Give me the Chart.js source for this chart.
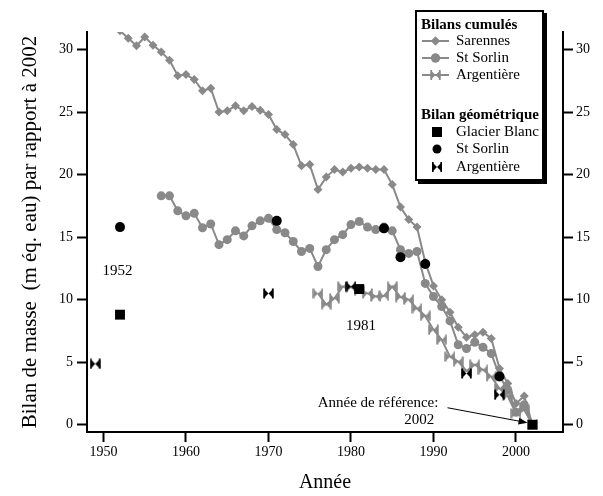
<!DOCTYPE html>
<html>
<head>
<meta charset="utf-8">
<script src="https://cdn.jsdelivr.net/npm/chart.js@4.4.1/dist/chart.umd.min.js"></script>
<style>
  html, body { margin: 0; padding: 0; background: #fff; }
  #wrap { width: 603px; height: 496px; position: relative; }
</style>
</head>
<body>
<div id="wrap"><canvas id="chart"></canvas></div>
<script>
// ---------------------------------------------------------------------------
// Data
// ---------------------------------------------------------------------------
const X_TICKS = [1950, 1960, 1970, 1980, 1990, 2000];
const Y_TICKS = [0, 5, 10, 15, 20, 25, 30];

// Bilans cumulés
const sarYears = [];
for (let y = 1952; y <= 2002; y++) sarYears.push(y);
const sarVals = [31.5, 30.9, 30.3, 31.0, 30.35, 29.8, 29.15, 27.9, 28.0, 27.6,
  26.7, 26.9, 25.0, 25.1, 25.5, 25.1, 25.45, 25.15, 24.8, 23.6,
  23.2, 22.4, 20.7, 20.8, 18.8, 19.8, 20.4, 20.2, 20.5, 20.6,
  20.5, 20.4, 20.4, 19.2, 17.4, 16.4, 15.8, 13.0, 11.1, 10.0,
  9.0, 7.8, 7.0, 7.2, 7.4, 6.9, 4.5, 3.3, 1.7, 2.3, 0];

const stsYears = [];
for (let y = 1957; y <= 2002; y++) stsYears.push(y);
const stsVals = [18.3, 18.3, 17.1, 16.7, 16.9, 15.75, 16.05, 14.4, 14.8, 15.5,
  15.1, 15.9, 16.3, 16.5, 15.6, 15.35, 14.65, 13.85, 14.1, 12.65,
  14.0, 14.8, 15.2, 16.0, 16.25, 15.8, 15.6, 15.8, 15.5, 14.0,
  13.7, 13.85, 11.3, 10.25, 9.45, 8.3, 6.4, 6.1, 6.6, 6.2,
  5.7, 3.9, 2.8, 1.0, 1.6, 0];

const argYears = [];
for (let y = 1976; y <= 2002; y++) argYears.push(y);
const argVals = [10.5, 9.6, 10.1, 11.05, 11.0, 10.7, 10.5, 10.25, 10.3, 11.05,
  10.2, 10.0, 9.3, 8.7, 7.6, 6.8, 5.45, 5.05, 4.3, 4.8,
  4.4, 3.85, 2.9, 2.3, 0.9, 1.2, 0];

// Bilan géométrique
const gbYears = [1952, 1981, 2002];
const gbVals = [8.8, 10.85, 0];
const stsGeoYears = [1952, 1971, 1984, 1986, 1989, 1998];
const stsGeoVals = [15.8, 16.3, 15.7, 13.4, 12.85, 3.86];
const argGeoYears = [1949, 1970, 1980, 1994, 1998];
const argGeoVals = [4.87, 10.5, 11.05, 4.1, 2.4];

// ---------------------------------------------------------------------------
// Styles
// ---------------------------------------------------------------------------
const GRAY = "#898989";
const SERIF = "'Liberation Serif', 'Times New Roman', serif";

function pts(xs, ys) { return xs.map((x, i) => ({ x, y: ys[i] })); }

function drawBowtie(ctx, x, y, s, color) {
  ctx.save();
  ctx.fillStyle = color;
  ctx.beginPath();
  ctx.moveTo(x - s, y - s); ctx.lineTo(x, y); ctx.lineTo(x - s, y + s); ctx.closePath();
  ctx.moveTo(x + s, y - s); ctx.lineTo(x, y); ctx.lineTo(x + s, y + s); ctx.closePath();
  ctx.fill();
  ctx.fillRect(x - s, y - s, 1.6, 2 * s);
  ctx.fillRect(x + s - 1.6, y - s, 1.6, 2 * s);
  ctx.restore();
}

function bowtieCanvas(color) {
  const c = document.createElement("canvas");
  c.width = 11; c.height = 11;
  drawBowtie(c.getContext("2d"), 5.5, 5.5, 5, color);
  return c;
}
const bowGray = bowtieCanvas(GRAY);
const bowBlack = bowtieCanvas("#000");

// ---------------------------------------------------------------------------
// Annotations + legend plugin
// ---------------------------------------------------------------------------
const extras = {
  id: "extras",
  afterDatasetsDraw(chart) {
    const { ctx, scales: { x, y } } = chart;
    ctx.save();
    ctx.fillStyle = "#000";
    ctx.font = `15px ${SERIF}`;
    ctx.textBaseline = "middle";
    ctx.textAlign = "center";
    ctx.fillText("1952", x.getPixelForValue(1951.7), y.getPixelForValue(12.3));
    ctx.fillText("1981", x.getPixelForValue(1981.2), y.getPixelForValue(7.9));
    ctx.textAlign = "right";
    ctx.fillText("Année de référence:", x.getPixelForValue(1990.6), y.getPixelForValue(1.76));
    ctx.fillText("2002", x.getPixelForValue(1990.1), y.getPixelForValue(0.4));

    // flèche vers l'année de référence
    const x1 = x.getPixelForValue(1991.7), y1 = y.getPixelForValue(1.36);
    const x2 = x.getPixelForValue(2001.4), y2 = y.getPixelForValue(0.16);
    const a = Math.atan2(y2 - y1, x2 - x1);
    ctx.strokeStyle = "#000";
    ctx.lineWidth = 1;
    ctx.beginPath(); ctx.moveTo(x1, y1); ctx.lineTo(x2 - 6 * Math.cos(a), y2 - 6 * Math.sin(a)); ctx.stroke();
    ctx.beginPath();
    ctx.moveTo(x2, y2);
    ctx.lineTo(x2 - 9 * Math.cos(a) + 3.5 * Math.sin(a), y2 - 9 * Math.sin(a) - 3.5 * Math.cos(a));
    ctx.lineTo(x2 - 9 * Math.cos(a) - 3.5 * Math.sin(a), y2 - 9 * Math.sin(a) + 3.5 * Math.cos(a));
    ctx.closePath(); ctx.fill();
    ctx.restore();
  },
  afterDraw(chart) {
    const ctx = chart.ctx;
    ctx.save();
    // cadre avec ombre
    ctx.fillStyle = "#000";
    ctx.fillRect(418, 13, 129, 171);
    ctx.fillStyle = "#fff";
    ctx.fillRect(415, 10, 129, 171);
    ctx.strokeStyle = "#000";
    ctx.lineWidth = 2;
    ctx.strokeRect(416, 11, 127, 169);

    ctx.fillStyle = "#000";
    ctx.textBaseline = "middle";
    ctx.textAlign = "left";
    ctx.font = `bold 15px ${SERIF}`;
    ctx.fillText("Bilans cumulés", 421, 25);
    ctx.fillText("Bilan géométrique", 421, 115);

    ctx.font = `15px ${SERIF}`;
    const rows1 = [["Sarennes", "rectRot", 41], ["St Sorlin", "circle", 58], ["Argentière", "bow", 75]];
    for (const [label, style, yy] of rows1) {
      ctx.strokeStyle = GRAY; ctx.lineWidth = 2;
      ctx.beginPath(); ctx.moveTo(422, yy); ctx.lineTo(449, yy); ctx.stroke();
      if (style === "bow") drawBowtie(ctx, 435.5, yy, 5, GRAY);
      else {
        ctx.fillStyle = GRAY;
        Chart.helpers.drawPoint(ctx, { pointStyle: style, radius: 4.5, borderWidth: 0 }, 435.5, yy);
        ctx.fill();
      }
      ctx.fillStyle = "#000";
      ctx.fillText(label, 456, yy);
    }
    const rows2 = [["Glacier Blanc", "rect", 132], ["St Sorlin", "circle", 149], ["Argentière", "bow", 167]];
    for (const [label, style, yy] of rows2) {
      ctx.fillStyle = "#000";
      if (style === "bow") drawBowtie(ctx, 437, yy, 5, "#000");
      else if (style === "rect") ctx.fillRect(432, yy - 5, 10, 10);
      else { ctx.beginPath(); ctx.arc(437, yy, 4.5, 0, Math.PI * 2); ctx.fill(); }
      ctx.fillText(label, 456, yy);
    }
    ctx.restore();
  }
};

// ---------------------------------------------------------------------------
// Chart
// ---------------------------------------------------------------------------
const tickFont = { family: SERIF, size: 14 };
const axisBorder = { display: true, color: "#000", width: 2 };
const axisGrid = { drawOnChartArea: false, drawTicks: true, tickLength: 10, tickWidth: 2, tickColor: "#000" };

new Chart(document.getElementById("chart"), {
  type: "scatter",
  data: {
    datasets: [
      { label: "Glacier Blanc (géom.)", data: pts(gbYears, gbVals), order: 0,
        pointStyle: "rect", pointRadius: 7, backgroundColor: "#000", borderWidth: 0 },
      { label: "St Sorlin (géom.)", data: pts(stsGeoYears, stsGeoVals), order: 0,
        pointStyle: "circle", pointRadius: 5, backgroundColor: "#000", borderWidth: 0 },
      { label: "Argentière (géom.)", data: pts(argGeoYears, argGeoVals), order: 0,
        pointStyle: bowBlack },
      { label: "Argentière", data: pts(argYears, argVals), order: 1, showLine: true,
        borderColor: GRAY, borderWidth: 2, pointStyle: bowGray },
      { label: "St Sorlin", data: pts(stsYears, stsVals), order: 2, showLine: true,
        borderColor: GRAY, borderWidth: 2, pointStyle: "circle", pointRadius: 4.5,
        backgroundColor: GRAY, pointBorderWidth: 0 },
      { label: "Sarennes", data: pts(sarYears, sarVals), order: 3, showLine: true,
        borderColor: GRAY, borderWidth: 2, pointStyle: "rectRot", pointRadius: 4.5,
        backgroundColor: GRAY, pointBorderWidth: 0 },
    ]
  },
  options: {
    responsive: true,
    maintainAspectRatio: false,
    animation: false,
    layout: { padding: { top: 32, right: 0, bottom: 0, left: 0 } },
    plugins: { legend: { display: false }, tooltip: { enabled: false } },
    scales: {
      x: {
        type: "linear", position: "bottom", min: 1948, max: 2005.7,
        afterBuildTicks: s => { s.ticks = X_TICKS.map(v => ({ value: v })); },
        afterFit: s => { s.height = 64; },
        grid: axisGrid, border: axisBorder,
        ticks: { color: "#000", font: tickFont, padding: 2, maxRotation: 0, callback: v => String(v) },
        title: { display: true, text: "Année", color: "#000", font: { family: SERIF, size: 20 }, padding: { top: 0, bottom: 1 } },
      },
      y: {
        type: "linear", position: "left", min: -0.58, max: 31.4,
        afterBuildTicks: s => { s.ticks = Y_TICKS.map(v => ({ value: v })); },
        afterFit: s => { s.width = 87; },
        grid: axisGrid, border: axisBorder,
        ticks: { color: "#000", font: tickFont, padding: 4, callback: v => String(v) },
        title: { display: true, text: "Bilan de masse  (m éq. eau) par rapport à 2002", color: "#000",
          font: { family: SERIF, size: 21 }, padding: { top: 18, bottom: 0 } },
      },
      y2: {
        type: "linear", position: "right", min: -0.58, max: 31.4,
        afterBuildTicks: s => { s.ticks = Y_TICKS.map(v => ({ value: v })); },
        afterFit: s => { s.width = 40; },
        grid: axisGrid, border: axisBorder,
        ticks: { color: "#000", font: tickFont, padding: 3, callback: v => String(v) },
      },
    }
  },
  plugins: [extras]
});
</script>
</body>
</html>
